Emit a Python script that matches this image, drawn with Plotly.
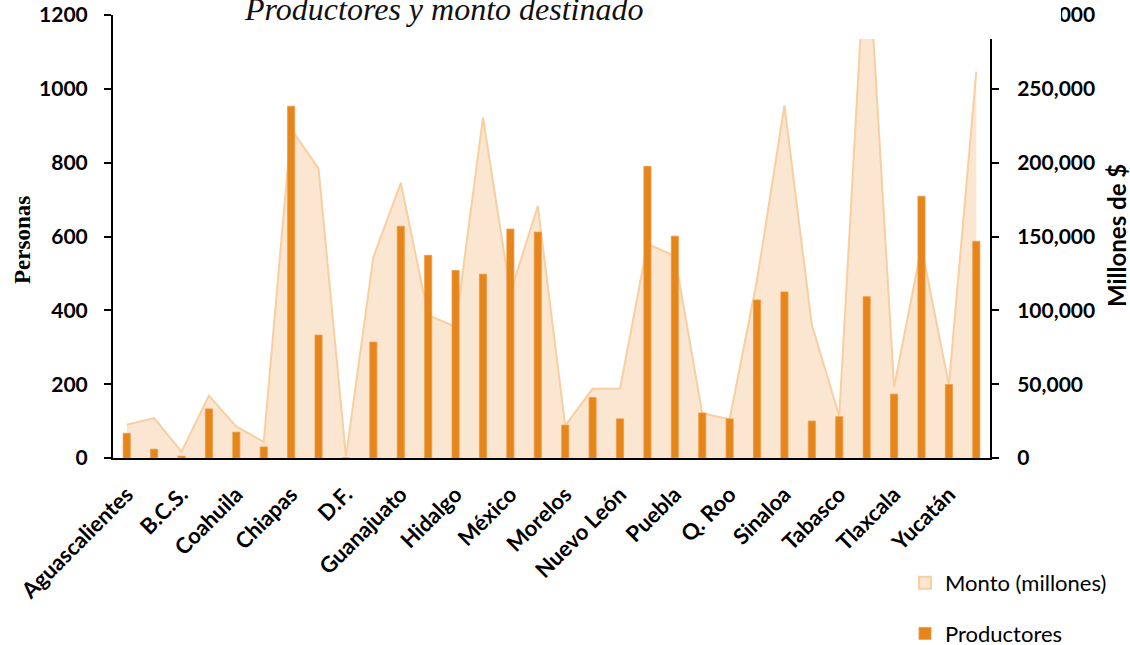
import plotly.graph_objects as go

estados = ["Aguascalientes", "Baja California", "B.C.S.", "Campeche", "Coahuila", "Colima",
           "Chiapas", "Chihuahua", "D.F.", "Durango", "Guanajuato", "Guerrero", "Hidalgo",
           "Jalisco", "México", "Michoacán", "Morelos", "Nayarit", "Nuevo León", "Oaxaca",
           "Puebla", "Querétaro", "Q. Roo", "San Luis Potosí", "Sinaloa", "Sonora", "Tabasco",
           "Tamaulipas", "Tlaxcala", "Veracruz", "Yucatán", "Zacatecas"]

productores = [67, 24, 5, 133, 70, 30, 953, 333, 0, 314, 628, 549, 508, 498, 620, 612,
               89, 164, 106, 790, 601, 122, 106, 428, 450, 100, 112, 437, 173, 709, 199, 587]

monto_millones = [22500, 27000, 4300, 42200, 21200, 11000, 223000, 196000, 900, 136000,
                  186400, 96800, 88900, 230500, 111700, 170700, 21900, 46900, 46900, 144900,
                  136800, 30300, 26200, 120500, 238800, 90000, 28500, 361000, 48000, 143000,
                  49400, 261600]

etiquetas_x = estados[0::2]
ticks_izq = [0, 200, 400, 600, 800, 1000, 1200]
ticks_der = [0, 50000, 100000, 150000, 200000, 250000, 300000]

titulo = "Productores y monto destinado"

FILL = "#FAE6D1"
EDGE = "#F8CFA0"
ORANGE = "#E6851A"

TICKFONT = dict(family="Lato", size=21, color="black", weight="bold")

fig = go.Figure()

fig.add_trace(go.Scatter(
    x=estados, y=monto_millones, name="Monto (millones)", mode="lines",
    fill="tozeroy", fillcolor=FILL, line=dict(color=EDGE, width=2),
    yaxis="y", showlegend=False, hoverinfo="x+y",
))

# legend entry for the area series (square swatch, as in the reference)
fig.add_trace(go.Bar(
    x=[None], y=[None], name="Monto (millones)",
    marker=dict(color=FILL, line=dict(color=EDGE, width=2)),
    yaxis="y", legendgroup="a",
))

fig.add_trace(go.Bar(
    x=estados, y=productores, name="Productores", width=0.26,
    marker=dict(color=ORANGE, line=dict(color="#EE9A45", width=0.8)),
    yaxis="y2", legendgroup="b",
))

W, H = 1130, 645
L, T = 113, 15
pw, ph = 877, 443
R = W - L - pw
B = H - T - ph

def px_x(x):
    return (x - L) / pw

def px_y(y):
    return 1 - (y - T) / ph

fig.update_layout(
    width=W, height=H,
    margin=dict(l=L, r=R, t=T, b=B, pad=0, autoexpand=False),
    paper_bgcolor="white", plot_bgcolor="white",
    showlegend=True, barmode="overlay",
    legend=dict(
        xref="container", yref="container",
        x=905 / W, y=1 - 562 / H, xanchor="left", yanchor="top",
        font=dict(family="Lato", size=22, color="black"),
        tracegroupgap=19, bgcolor="rgba(0,0,0,0)",
    ),
    xaxis=dict(
        type="category", showline=True, linecolor="black", linewidth=2,
        ticks="", showgrid=False, zeroline=False, automargin=False,
        tickmode="array", tickvals=etiquetas_x, ticktext=etiquetas_x,
        tickangle=-45, ticklabelstandoff=13,
        tickfont=dict(family="Lato", size=22, color="black", weight="bold"),
    ),
    yaxis=dict(
        side="right", range=[0, 300000], tickmode="array", tickvals=ticks_der,
        tickformat=",", showline=True, linecolor="black", linewidth=2,
        ticks="outside", ticklen=7, tickwidth=2, tickcolor="black",
        showgrid=False, zeroline=False, tickfont=TICKFONT, automargin=False,
        ticklabelstandoff=14, ticklabeloverflow="allow",
    ),
    yaxis2=dict(
        overlaying="y", side="left", range=[0, 1200], tickmode="array", tickvals=ticks_izq,
        showline=True, linecolor="black", linewidth=2,
        ticks="outside", ticklen=7, tickwidth=2, tickcolor="black",
        showgrid=False, zeroline=False, tickfont=TICKFONT, automargin=False,
        ticklabelstandoff=12, ticklabeloverflow="allow",
    ),
    shapes=[dict(
        type="rect", xref="paper", yref="paper",
        x0=px_x(118), x1=px_x(1061), y0=px_y(39), y1=px_y(-20),
        fillcolor="white", line=dict(width=0), layer="above",
    )],
    annotations=[
        dict(text=titulo, xref="paper", yref="paper", x=px_x(443), y=px_y(8.5),
             xanchor="center", yanchor="middle", showarrow=False,
             font=dict(family="Liberation Serif", size=32, color="#111111", style="italic")),
        dict(text="Personas", xref="paper", yref="paper", x=px_x(22), y=px_y(240),
             xanchor="center", yanchor="middle", showarrow=False, textangle=-90,
             font=dict(family="Liberation Serif", size=23, color="black", weight="bold")),
        dict(text="Millones de $", xref="paper", yref="paper", x=px_x(1116), y=px_y(236),
             xanchor="center", yanchor="middle", showarrow=False, textangle=-90,
             font=dict(family="Lato", size=24, color="black", weight="bold")),
    ],
)

fig.write_html("out.html", config={"displayModeBar": False},
               post_script="document.body.style.margin='0px';")
